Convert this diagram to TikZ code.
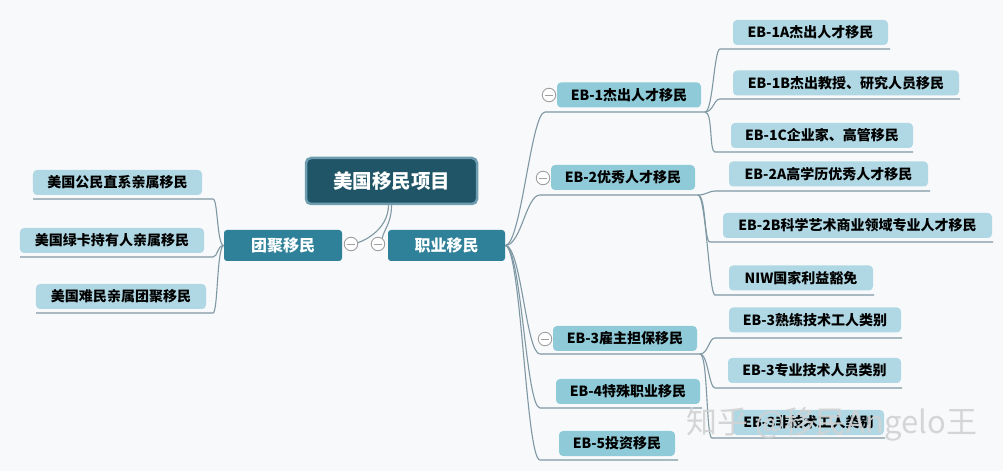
\documentclass[tikz,border=0pt]{standalone}
\usepackage{fontspec}
\setmainfont{Noto Sans CJK SC}
\usetikzlibrary{calc}
\definecolor{bgc}{HTML}{F8F9FA}
\definecolor{rootfill}{HTML}{1F5567}
\definecolor{rootline}{HTML}{6E9DB0}
\definecolor{mainfill}{HTML}{2F8199}
\definecolor{midfill}{HTML}{8ECAD8}
\definecolor{leaffill}{HTML}{B0D8E4}
\definecolor{connc}{HTML}{7E98A4}
\definecolor{wmark}{HTML}{D0D2D4}
\tikzset{
  rootbox/.style={fill=rootfill,draw=rootline,line width=2.5bp,rounded corners=5bp,text=white,inner sep=0pt,
    font=\bfseries\fontsize{19.5bp}{22bp}\selectfont},
  mainbox/.style={fill=mainfill,rounded corners=3bp,text=white,inner sep=0pt,minimum height=31bp,
    font=\bfseries\fontsize{16bp}{19bp}\selectfont},
  midbox/.style={fill=midfill,rounded corners=4bp,text=black,inner sep=0pt,minimum height=25bp,
    font=\bfseries\fontsize{14bp}{16bp}\selectfont},
  leafbox/.style={fill=leaffill,rounded corners=4bp,text=black,inner sep=0pt,minimum height=25bp,
    font=\bfseries\fontsize{14bp}{16bp}\selectfont},
  conn/.style={draw=connc,line width=1.1bp},
  fold/.style={circle,draw=gray!75,fill=white,line width=0.9bp,minimum size=13.5bp,inner sep=0pt,
    path picture={\draw[gray!75,line width=0.9bp]
      ([xshift=2.4bp]path picture bounding box.west) -- ([xshift=-2.4bp]path picture bounding box.east);}},
}
\begin{document}
\begin{tikzpicture}[x=1bp,y=-1bp]
\useasboundingbox (0,0) rectangle (1003,471);
\fill[bgc] (0,0) rectangle (1003,471);

% ---------- nodes ----------
\node[rootbox,minimum width=171bp,minimum height=46bp] (root) at (391.5,181) {美国移民项目};
\node[mainbox,minimum width=118bp] (tj) at (283,245.5) {团聚移民};
\node[mainbox,minimum width=117bp] (zy) at (446.5,245.5) {职业移民};

\node[leafbox,minimum width=169bp] (l1) at (117.5,182.5) {美国公民直系亲属移民};
\node[leafbox,minimum width=184bp] (l2) at (112,240.5) {美国绿卡持有人亲属移民};
\node[leafbox,minimum width=170bp] (l3) at (121,296.5) {美国难民亲属团聚移民};

\node[midbox,minimum width=144bp] (eb1) at (629,95) {EB-1杰出人才移民};
\node[midbox,minimum width=144bp] (eb2) at (623,177.5) {EB-2优秀人才移民};
\node[midbox,minimum width=144bp] (eb3) at (625,338.5) {EB-3雇主担保移民};
\node[midbox,minimum width=144bp] (eb4) at (628,391.5) {EB-4特殊职业移民};
\node[midbox,minimum width=116bp] (eb5) at (617,443.5) {EB-5投资移民};

\node[leafbox,minimum width=155bp] (a1) at (810.5,32.5) {EB-1A杰出人才移民};
\node[leafbox,minimum width=226bp] (a2) at (846,83) {EB-1B杰出教授、研究人员移民};
\node[leafbox,minimum width=182bp] (a3) at (822,135.5) {EB-1C企业家、高管移民};
\node[leafbox,minimum width=199bp] (b1) at (828.5,174) {EB-2A高学历优秀人才移民};
\node[leafbox,minimum width=269bp] (b2) at (857.5,225.5) {EB-2B科学艺术商业领域专业人才移民};
\node[leafbox,minimum width=144bp] (b3) at (801,278) {NIW国家利益豁免};
\node[leafbox,minimum width=172bp] (c1) at (815,320) {EB-3熟练技术工人类别};
\node[leafbox,minimum width=173bp] (c2) at (814.5,370.5) {EB-3专业技术人员类别};
\node[leafbox,minimum width=151bp] (c3) at (808.5,422.5) {EB-3非技术工人类别};

% ---------- underline coordinates ----------
\coordinate (l1s) at (213,199); \coordinate (l1e) at (33,199);
\coordinate (l2s) at (213,257); \coordinate (l2e) at (20,257);
\coordinate (l3s) at (213,313); \coordinate (l3e) at (36,313);

\coordinate (u1) at (545,112); \coordinate (j1) at (705,112);
\coordinate (u2) at (540,195); \coordinate (j2) at (698,195);
\coordinate (u3) at (540,354); \coordinate (j3) at (700,354);
\coordinate (u4) at (540,408); \coordinate (e4) at (702,408);
\coordinate (u5) at (540,460); \coordinate (e5) at (678,460);

\coordinate (a1s) at (720,49);  \coordinate (a1e) at (890,49);
\coordinate (a2s) at (720,99);  \coordinate (a2e) at (960,99);
\coordinate (a3s) at (715,152); \coordinate (a3e) at (913,152);
\coordinate (b1s) at (715,191); \coordinate (b1e) at (930,191);
\coordinate (b2s) at (710,242); \coordinate (b2e) at (993,242);
\coordinate (b3s) at (715,295); \coordinate (b3e) at (874,295);
\coordinate (c1s) at (715,338); \coordinate (c1e) at (902,338);
\coordinate (c2s) at (715,388); \coordinate (c2e) at (902,388);
\coordinate (c3s) at (712,438); \coordinate (c3e) at (885,438);

\coordinate (fz) at (351,244);
\coordinate (fy) at (378,244);

% ---------- connectors ----------
\draw[conn] ([xshift=-3bp]root.south) .. controls +(0,25) and +(10,0) .. (fz);
\draw[conn] ([xshift=0bp]root.south) .. controls +(0,18) and +(2,-10) .. ([xshift=4bp,yshift=5bp]fy);

\foreach \s/\e in {l1s/l1e,l2s/l2e,l3s/l3e}
  \draw[conn] (tj.west) .. controls +(-7,0) and +(5,0) .. (\s) -- (\e);

\foreach \s/\e in {u1/j1,u2/j2,u3/j3,u4/e4,u5/e5}
  \draw[conn] (zy.east) .. controls +(16,0) and +(-14,0) .. (\s) -- (\e);

\foreach \j/\s/\e in {j1/a1s/a1e,j1/a2s/a2e,j1/a3s/a3e,j2/b1s/b1e,j2/b2s/b2e,j2/b3s/b3e,j3/c1s/c1e,j3/c2s/c2e,j3/c3s/c3e}
  \draw[conn] (\j) .. controls +(8,0) and +(-6,0) .. (\s) -- (\e);

% ---------- fold markers ----------
\node[fold] (f0) at (fz) {};
\node[fold] (f00) at (fy) {};
\node[fold] (f1) at (549,95) {};
\node[fold] (f2) at (543,178) {};
\node[fold] (f3) at (545,339) {};

% ---------- watermark ----------
\node[text=wmark,opacity=0.92,inner sep=0pt,font=\fontsize{31bp}{34bp}\selectfont] (wm) at (832,424) {知乎 @移民Angelo王};
\end{tikzpicture}
\end{document}
